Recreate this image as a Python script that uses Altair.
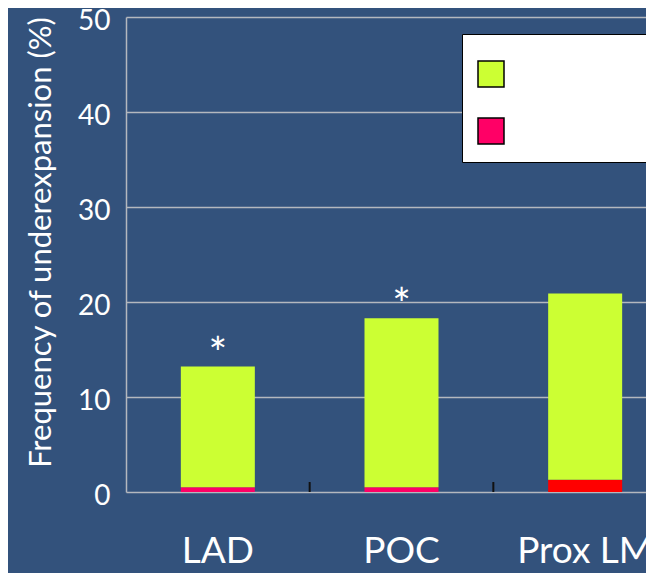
import altair as alt
import pandas as pd

categories = ["LAD", "POC", "Prox LM"]
green_vals = [12.7, 17.8, 19.6]
bottom_vals = [0.5, 0.5, 1.3]
bottom_series = ["Severe underexpansion", "Severe underexpansion", "Severe underexpansion (Prox LM)"]
stars = ["*", "*", ""]
series_names = ["Underexpansion", "Severe underexpansion", "Severe underexpansion (Prox LM)"]
series_colors = ["#CCFF33", "#FF0066", "#FF0000"]

rows = []
for c, g, b, bs in zip(categories, green_vals, bottom_vals, bottom_series):
    rows.append({"cat": c, "series": bs, "value": b, "ord": 0})
    rows.append({"cat": c, "series": "Underexpansion", "value": g, "ord": 1})
df = pd.DataFrame(rows)

star_df = pd.DataFrame({
    "cat": categories,
    "total": [g + b for g, b in zip(green_vals, bottom_vals)],
    "star": stars,
})
tick_df = pd.DataFrame({"cat": categories[1:]})

FONT = "Lato"
YTITLE = "Frequency of underexpansion (%)"
xscale = alt.Scale(domain=categories, range=[0, 551], paddingInner=0, paddingOuter=0)
yscale = alt.Scale(domain=[0, 50], nice=False)

bars = alt.Chart(df).mark_bar(size=74).encode(
    x=alt.X("cat:N", scale=xscale, sort=categories, title=None,
            axis=alt.Axis(domain=False, ticks=False, labelAngle=0, labelFontSize=37,
                          labelColor="white", labelFont=FONT, labelPadding=41, grid=False)),
    y=alt.Y("value:Q", stack="zero", scale=yscale, title=YTITLE,
            axis=alt.Axis(values=[0, 10, 20, 30, 40, 50], ticks=False, labelPadding=16,
                          labelFontSize=28, labelColor="white", labelFont=FONT,
                          labelBaseline="alphabetic", labelOffset=12,
                          titleFontSize=31, titleColor="white", titleFont=FONT,
                          titleFontWeight="normal", titlePadding=20, titleY=225,
                          domainColor="#B4B8BE", domainWidth=1.5,
                          grid=True, gridColor="#B4B8BE", gridWidth=1.5)),
    color=alt.Color("series:N",
                    scale=alt.Scale(domain=series_names, range=series_colors),
                    legend=alt.Legend(title=" ", titleFontSize=1, titlePadding=10,
                                      orient="none", legendX=336, legendY=17,
                                      values=series_names[:2], labelExpr="''",
                                      fillColor="white", strokeColor="black",
                                      padding=15, rowPadding=25, labelOffset=220,
                                      symbolType="square", symbolSize=676,
                                      symbolStrokeColor="black", symbolStrokeWidth=1.5,
                                      labelFontSize=20, labelFont=FONT)),
    order=alt.Order("ord:Q"),
)

ticks = alt.Chart(tick_df).mark_rule(color="#111111", strokeWidth=2).encode(
    x=alt.X("cat:N", scale=xscale, sort=categories, bandPosition=0, title=None),
    y=alt.datum(0),
    y2=alt.datum(1.05),
)

star_text = alt.Chart(star_df).mark_text(
    fontSize=44, color="white", font=FONT, baseline="alphabetic", dy=2
).encode(
    x=alt.X("cat:N", scale=xscale, sort=categories, title=None),
    y=alt.Y("total:Q", scale=yscale, title=YTITLE),
    text="star:N",
)

chart = alt.layer(bars, ticks, star_text).properties(
    width=520, height=475,
    padding={"left": 118, "top": 9, "right": 0, "bottom": 81},
    autosize=alt.AutoSizeParams(type="none"),
    background="#33527C",
).configure_view(stroke=None)

chart.save("out.html", embed_options={"renderer": "svg", "actions": False})
